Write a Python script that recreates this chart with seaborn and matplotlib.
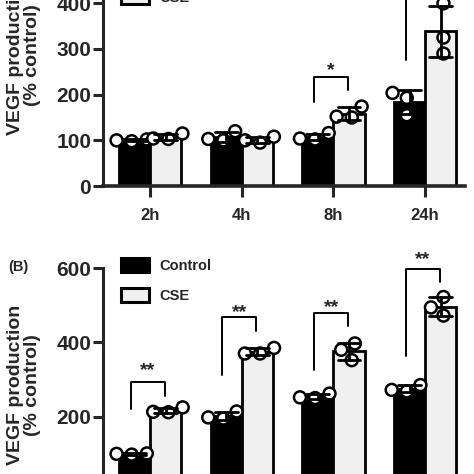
import warnings
import numpy as np
import pandas as pd
import matplotlib
matplotlib.use("Agg")
import matplotlib.pyplot as plt
from matplotlib.patches import Patch
import seaborn as sns

warnings.filterwarnings("ignore")

# data (% of control, 3 replicates per bar)
times = ["2h", "4h", "8h", "24h"]
top_control = [[100, 102, 98], [100, 120, 103], [102, 116, 104], [204, 193, 155]]
top_cse = [[104, 115, 103], [100, 108, 95], [152, 174, 150], [400, 325, 290]]

doses = ["d1", "d2", "d3", "d4"]
bottom_control = [[98, 101, 100], [195, 214, 198], [252, 262, 250], [272, 285, 268]]
bottom_cse = [[213, 225, 212], [370, 385, 370], [397, 380, 352], [522, 494, 472]]

# significance brackets: (group, left leg bottom, top, right leg bottom, star y, text)
top_sig = [(2, 185, 238, 211, 252, "*"), (3, 275, 470, 430, 490, "**")]
bottom_sig = [(0, 220, 293, 256, 324, "**"), (1, 313, 467, 430, 479, "**"),
              (2, 326, 480, 444, 493, "**"), (3, 362, 597, 562, 622, "**")]

groups = ["Control", "CSE"]
bar_colors = {"Control": "black", "CSE": "#f0f0f0"}


def long_df(cats, ctrl, cse):
    rows = []
    for c, a, b in zip(cats, ctrl, cse):
        for v in a:
            rows.append((c, "Control", v))
        for v in b:
            rows.append((c, "CSE", v))
    return pd.DataFrame(rows, columns=["x", "group", "value"])


sns.set_style("ticks")
plt.rcParams["font.family"] = ["Liberation Sans", "DejaVu Sans"]
plt.rcParams["font.weight"] = "bold"

fig = plt.figure(figsize=(4.74, 4.74), dpi=100)
W = 474.0
ax_top = fig.add_axes([103 / W, (W - 186) / W, 362 / W, 274 / W])
ax_bot = fig.add_axes([103 / W, (W - 491) / W, 362 / W, 223 / W])


def draw_panel(ax, df, cats, sig, legend_top):
    sns.barplot(data=df, x="x", y="value", hue="group", order=cats, hue_order=groups,
                palette=bar_colors, errorbar="sd", capsize=0.5, width=0.68,
                edgecolor="black", linewidth=2, legend=False,
                err_kws={"color": "black", "linewidth": 2}, ax=ax)
    sns.swarmplot(data=df, x="x", y="value", hue="group", order=cats, hue_order=groups,
                  dodge=True, palette={"Control": "white", "CSE": "white"},
                  edgecolor="black", linewidth=1.8, size=8.6, legend=False, ax=ax)
    for ln in ax.lines:
        ln.set_zorder(5)
    for col in ax.collections:
        col.set_zorder(4)

    ax.set_ylim(0, 600)
    ax.set_yticks(range(0, 601, 100) if ax is ax_top else range(0, 601, 200))
    ax.set_xlim(-0.513, 3.435)
    sns.despine(ax=ax)
    ax.spines["left"].set_linewidth(2.2)
    ax.spines["bottom"].set_linewidth(2.6)
    ax.tick_params(axis="y", length=7, width=2.2, labelsize=15, pad=1.5)
    ax.tick_params(axis="x", length=8, width=2.2, labelsize=12, pad=8)
    for t in ax.get_yticklabels() + ax.get_xticklabels():
        t.set_fontweight("bold")
    ax.set_xlabel("")
    ax.set_ylabel("VEGF production\n(% control)", fontsize=14, fontweight="bold",
                  linespacing=1.05)

    for g, yl, ytop, yr, ys, txt in sig:
        xl, xr = g - 0.21, g + 0.16
        ax.plot([xl, xl, xr, xr], [yl, ytop, ytop, yr], color="black", lw=1.4,
                clip_on=False, zorder=6)
        ax.text((xl + xr) / 2, ys, txt, ha="center", va="center", fontsize=14,
                fontweight="bold", clip_on=False)

    handles = [Patch(facecolor="black", edgecolor="black", linewidth=2.2),
               Patch(facecolor="#f0f0f0", edgecolor="black", linewidth=2.2)]
    ax.legend(handles, groups, loc="upper left", bbox_to_anchor=(121 / W, legend_top),
              bbox_transform=fig.transFigure, frameon=False,
              prop={"weight": "bold", "size": 10.5}, handlelength=1.9, handleheight=1.1,
              labelspacing=1.0, handletextpad=0.75, borderpad=0, borderaxespad=0)


draw_panel(ax_top, long_df(times, top_control, top_cse), times, top_sig, 1 + 40 / W)
draw_panel(ax_bot, long_df(doses, bottom_control, bottom_cse), doses, bottom_sig, 1 - 258 / W)

ax_top.yaxis.set_label_coords(-0.17, 0.478)
ax_bot.yaxis.set_label_coords(-0.17, 0.475)

fig.text(8 / W, 1 - 267 / W, "(B)", fontsize=10.5, fontweight="bold", va="center")

fig.savefig("out.png", dpi=100)
